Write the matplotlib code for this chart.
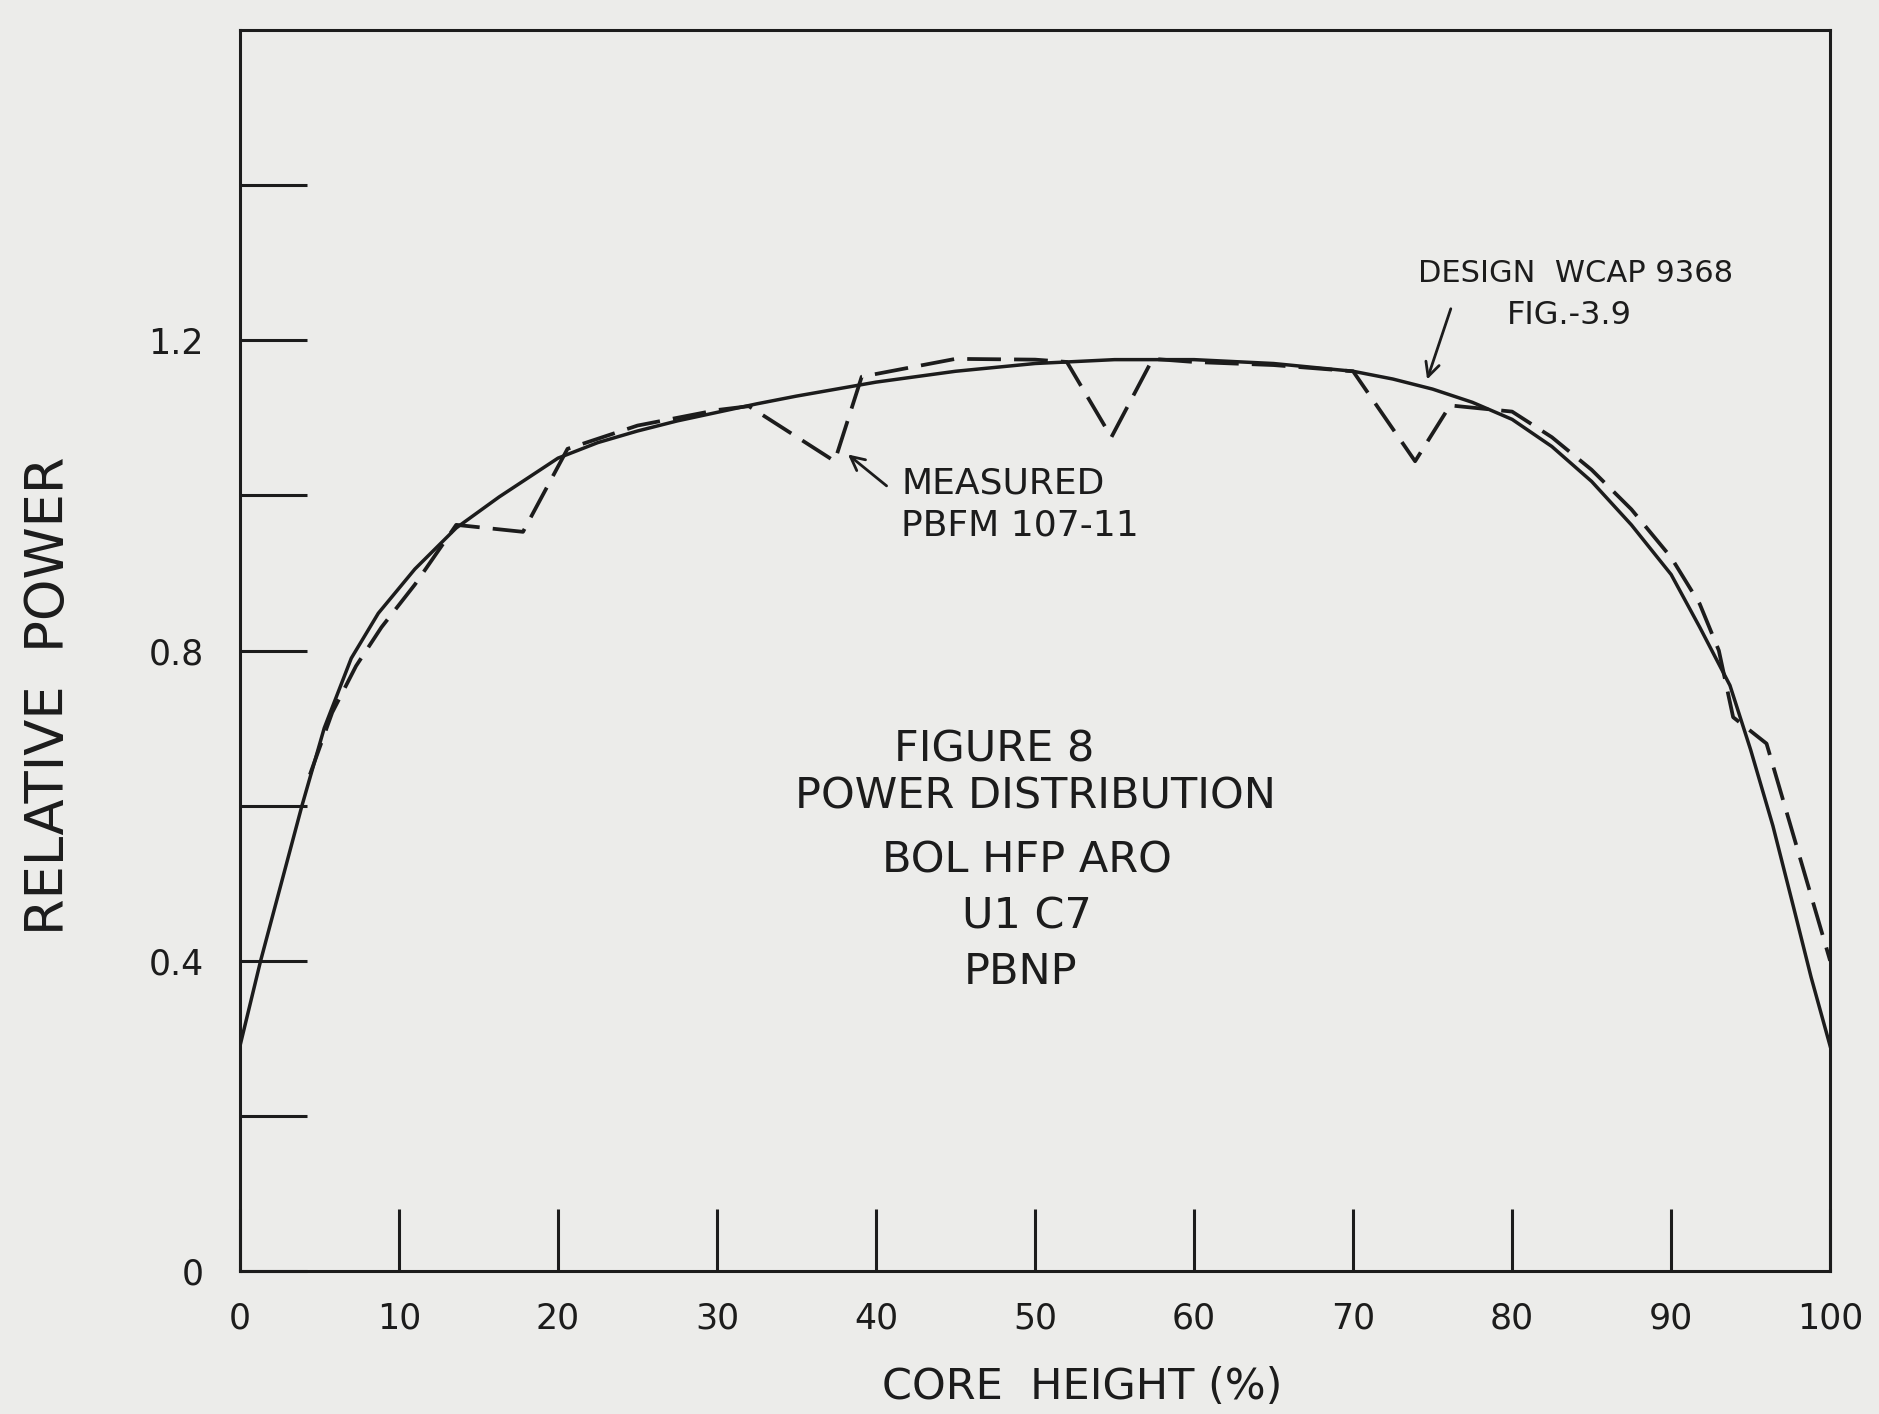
import matplotlib
matplotlib.use("Agg")
import matplotlib.pyplot as plt

# design curve (WCAP 9368 fig 3.9)
design_x = [0, 1.3, 2.6, 3.9, 5.3, 7.0, 8.7, 11.0, 13.6, 16.3, 20, 22.5, 25, 27.5, 30, 32.5, 35, 37.5, 40, 45,
            50, 55, 60, 65, 70, 72.5, 75, 77.5, 80, 82.5, 85, 87.5, 90, 91.8, 93.7, 95, 96.4, 97.7, 98.8, 100]
design_y = [0.29, 0.40, 0.50, 0.60, 0.70, 0.79, 0.848, 0.905, 0.958, 0.998, 1.048, 1.068, 1.083, 1.096, 1.107,
            1.118, 1.128, 1.137, 1.146, 1.16, 1.17, 1.175, 1.175, 1.17, 1.16, 1.15, 1.137, 1.12, 1.098, 1.063,
            1.018, 0.962, 0.898, 0.83, 0.755, 0.672, 0.574, 0.469, 0.379, 0.29]

# measured (PBFM 107-11), with grid dips
meas_x = [4.4, 5.8, 7.3, 8.9, 11, 13.6, 17.8, 20.6, 25, 30, 32, 37.4, 39.1, 45, 50, 52, 54.8, 57.4, 60, 65, 70,
          73.9, 76.1, 80, 82.5, 85, 87.5, 90, 91.8, 93, 93.9, 96, 100]
meas_y = [0.64, 0.72, 0.78, 0.83, 0.885, 0.962, 0.953, 1.06, 1.09, 1.11, 1.115, 1.044, 1.153, 1.176, 1.175,
          1.172, 1.075, 1.176, 1.172, 1.168, 1.16, 1.044, 1.116, 1.108, 1.075, 1.033, 0.982, 0.92, 0.86, 0.80,
          0.714, 0.68, 0.40]

x_ticks = [0, 10, 20, 30, 40, 50, 60, 70, 80, 90, 100]
y_ticks = [0, 0.2, 0.4, 0.6, 0.8, 1.0, 1.2, 1.4]
y_tick_labels = ["0", "", "0.4", "", "0.8", "", "1.2", ""]

center_lines = ["FIGURE 8", "POWER DISTRIBUTION", "BOL HFP ARO", "U1 C7", "PBNP"]

PAPER = "#ececea"
INK = "#1c1c1c"

plt.rcParams["font.family"] = ["DejaVu Sans"]

fig = plt.figure(figsize=(18.79, 14.14), dpi=100, facecolor=PAPER)
ax = fig.add_axes([0.1277, 0.1011, 0.974 - 0.1277, 0.9788 - 0.1011], facecolor=PAPER)

ax.plot(design_x, design_y, color=INK, lw=2.5, solid_joinstyle="round")
ax.plot(meas_x, meas_y, color=INK, lw=2.7, linestyle=(0, (9, 3.5)))

ax.set_xlim(0, 100)
ax.set_ylim(0, 1.6)
ax.set_xticks(x_ticks)
ax.set_xticklabels([str(v) for v in x_ticks])
ax.set_yticks(y_ticks)
ax.set_yticklabels(y_tick_labels)
ax.tick_params(axis="x", direction="in", length=45, width=2.2, color=INK, labelsize=25, pad=22, labelcolor=INK)
ax.tick_params(axis="y", direction="in", length=48, width=2.2, color=INK, labelsize=25, pad=26, labelcolor=INK)
for s in ax.spines.values():
    s.set_linewidth(2.2)
    s.set_color(INK)

# annotations
ax.annotate("", xy=(74.6, 1.146), xytext=(76.2, 1.244),
            arrowprops=dict(arrowstyle="->", color=INK, lw=2, mutation_scale=25))
ax.text(74.1, 1.286, "DESIGN  WCAP 9368", fontsize=22, color=INK, va="center", ha="left")
ax.text(79.7, 1.232, "FIG.-3.9", fontsize=23, color=INK, va="center", ha="left")

ax.annotate("", xy=(38.1, 1.055), xytext=(40.8, 1.01),
            arrowprops=dict(arrowstyle="->", color=INK, lw=2, mutation_scale=25))
ax.text(41.6, 1.015, "MEASURED", fontsize=26, color=INK, va="center", ha="left")
ax.text(41.6, 0.961, "PBFM 107-11", fontsize=26, color=INK, va="center", ha="left")

center_x = [47.4, 50.0, 49.5, 49.5, 49.1]
center_y = [0.672, 0.612, 0.529, 0.457, 0.386]
for t, cx, cy in zip(center_lines, center_x, center_y):
    ax.text(cx, cy, t, fontsize=31, color=INK, ha="center", va="center")

fig.text(0.026, 0.508, "RELATIVE  POWER", rotation=90, fontsize=38, color=INK, ha="center", va="center")
fig.text(0.576, 0.019, "CORE  HEIGHT (%)", fontsize=31, color=INK, ha="center", va="center")

fig.savefig("out.png", dpi=100, facecolor=PAPER)
